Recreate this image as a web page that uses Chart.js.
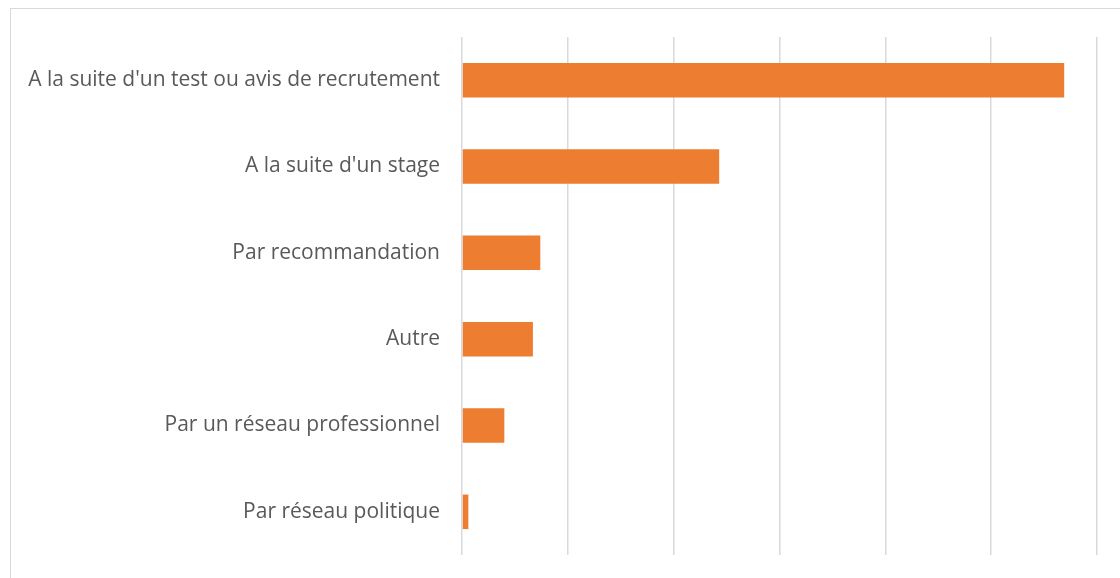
<!DOCTYPE html>
<html>
<head>
<meta charset="utf-8">
<script src="https://cdn.jsdelivr.net/npm/chart.js@4"></script>
<style>
  body { margin: 0; background: #fff; }
  #wrap { position: relative; width: 1120px; height: 578px; overflow: hidden; }
  #frame { position: absolute; left: 10px; top: 8px; width: 1130px; height: 590px; border: 1px solid #d9d9d9; box-sizing: border-box; }
  canvas { position: absolute; left: 0; top: 0; }
</style>
</head>
<body>
<div id="wrap">
  <div id="frame"></div>
  <canvas id="recrutChart" width="1120" height="578"></canvas>
</div>
<script>
var categories = [
  "A la suite d'un test ou avis de recrutement",
  "A la suite d'un stage",
  "Par recommandation",
  "Autre",
  "Par un réseau professionnel",
  "Par réseau politique"
];
var values = [56.9, 24.3, 7.4, 6.7, 4.0, 0.6];
var xMax = 60;
var xStep = 10;

window.onload = function() {
  var ctx = document.getElementById("recrutChart").getContext('2d');
  new Chart(ctx, {
    type: 'bar',
    data: {
      labels: categories,
      datasets: [{
        label: 'Réponses',
        backgroundColor: '#ED7D31',
        borderWidth: 0,
        categoryPercentage: 1,
        barPercentage: 0.4,
        data: values
      }]
    },
    options: {
      indexAxis: 'y',
      responsive: false,
      animation: false,
      layout: { padding: { top: 37, right: 23, bottom: 23, left: 0 } },
      plugins: { legend: { display: false }, tooltip: { enabled: false } },
      scales: {
        x: {
          min: 0, max: xMax,
          ticks: { display: false, stepSize: xStep },
          grid: { color: '#d9d9d9', lineWidth: 1.5, drawTicks: false },
          border: { display: false },
          afterFit: function(scale) {
            scale.height = 0;
            scale.paddingTop = 0; scale.paddingBottom = 0;
          }
        },
        y: {
          grid: { display: false, drawTicks: false },
          border: { display: false },
          ticks: {
            color: '#595959',
            padding: 22,
            font: { family: 'Open Sans', size: 21 }
          },
          afterFit: function(scale) {
            scale.width = 462;
            scale.paddingTop = 0; scale.paddingBottom = 0;
          }
        }
      }
    }
  });
};
</script>
</body>
</html>
